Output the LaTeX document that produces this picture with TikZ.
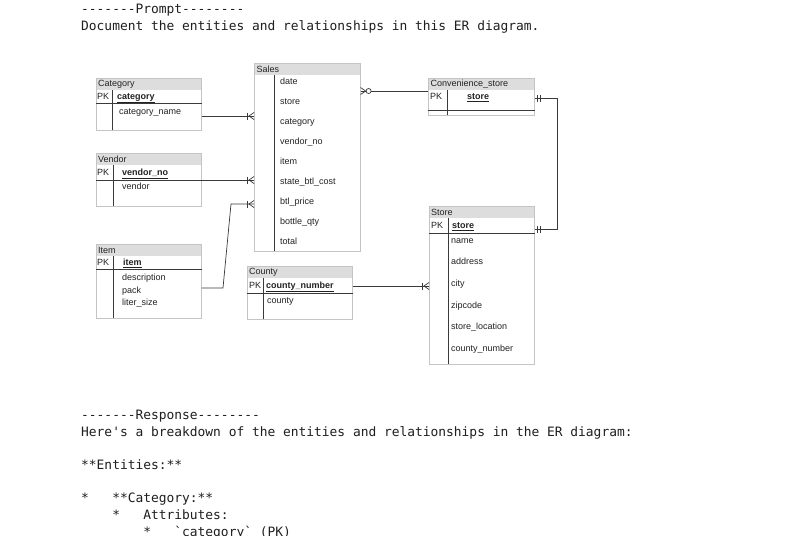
\documentclass[tikz,border=0pt]{standalone}
\usepackage{fontspec}
\setmonofont{DejaVu Sans Mono}
\newfontfamily\erfont{Liberation Sans}
\definecolor{hdrgray}{HTML}{DDDDDD}
\definecolor{boxgray}{HTML}{C4C4C4}
\definecolor{linegray}{HTML}{3A3A3A}
\definecolor{txtgray}{HTML}{222222}
\tikzset{
  tbl/.style={draw=boxgray,line width=0.6pt,anchor=north west,minimum width=105pt,inner sep=0pt},
  hdr/.style={fill=hdrgray,anchor=north west,minimum width=105pt,minimum height=12pt,inner sep=0pt,
    text width=101pt,align=left,font=\erfont\fontsize{9}{10}\selectfont,text=txtgray},
  fld/.style={anchor=west,inner sep=0pt,text height=6.5pt,text depth=2pt,
    font=\erfont\fontsize{9}{10}\selectfont,text=txtgray},
  pkey/.style={fld,font=\erfont\fontsize{9}{10}\selectfont\bfseries},
  keyline/.style={draw=linegray,line width=0.8pt},
  conn/.style={draw=linegray,line width=0.7pt},
  mono/.style={anchor=base west,inner sep=0pt,font=\ttfamily\fontsize{12.9}{15}\selectfont,text=black!88},
  pics/many/.style={code={
    \draw[conn] (-6.5,-3.5) -- (-6.5,3.5);
    \draw[conn] (0,-3.5) -- (-5,0) -- (0,3.5);
  }},
  pics/zmany/.style={code={
    \draw[conn] (0,-3.5) -- (-5,0) -- (0,3.5);
    \draw[conn,fill=white] (-8,0) circle (2.5pt);
  }},
  pics/one/.style={code={
    \draw[conn] (-2.5,-3.5) -- (-2.5,3.5) (-5.5,-3.5) -- (-5.5,3.5);
  }}
}
\begin{document}
\begin{tikzpicture}[x=1pt,y=-1pt]
\fill[white] (0,0) rectangle (804,536);
\useasboundingbox (0,0) rectangle (804,536);

% prompt
\node[mono] (prompt) at (81,13.5) {-------Prompt--------};
\node[mono] (ask) at (81,30.3) {Document the entities and relationships in this ER diagram.};

% Category
\node[hdr] (categoryh) at (96,78) {Category};
\node[tbl,minimum height=52pt] (category) at (96,78) {};
\node[fld] (categorypk) at (97,97) {PK};
\node[pkey] (categorykey) at (117,97) {\underline{category}};
\node[fld] (categoryname) at (119,112) {category\_name};
\draw[keyline] (category.west |- 0,103) -- (category.east |- 0,103);
\draw[keyline] (112,90) -- (112,130);

% Vendor
\node[hdr] (vendorh) at (96,153) {Vendor};
\node[tbl,minimum height=53pt] (vendor) at (96,153) {};
\node[fld] (vendorpk) at (97,173) {PK};
\node[pkey] (vendorkey) at (122,173) {\underline{vendor\_no}};
\node[fld] (vendorname) at (122,187) {vendor};
\draw[keyline] (vendor.west |- 0,180) -- (vendor.east |- 0,180);
\draw[keyline] (113,165) -- (113,206);

% Item
\node[hdr] (itemh) at (96,244) {Item};
\node[tbl,minimum height=74pt] (item) at (96,244) {};
\node[fld] (itempk) at (97,263) {PK};
\node[pkey] (itemkey) at (123,263) {\underline{item}};
\node[fld] (itemdesc) at (122,278) {description};
\node[fld] (itempack) at (122,291) {pack};
\node[fld] (itemsize) at (122,303) {liter\_size};
\draw[keyline] (item.west |- 0,269) -- (item.east |- 0,269);
\draw[keyline] (113,256) -- (113,318);

% Sales
\node[hdr,minimum width=106pt] (salesh) at (254,63) {Sales};
\node[tbl,minimum width=106pt,minimum height=188pt] (sales) at (254,63) {};
\draw[keyline] (274,75) -- (274,251);
\foreach \f [count=\i from 0] in {date,store,category,vendor\_no,item,state\_btl\_cost,btl\_price,bottle\_qty,total}
  \node[fld] (sales\i) at (280,82+20*\i) {\f};

% County
\node[hdr] (countyh) at (247,266) {County};
\node[tbl,minimum height=53pt] (county) at (247,266) {};
\node[fld] (countypk) at (249,286) {PK};
\node[pkey] (countykey) at (266,286) {\underline{county\_number}};
\node[fld] (countyname) at (267,301) {county};
\draw[keyline] (county.west |- 0,293) -- (county.east |- 0,293);
\draw[keyline] (263,278) -- (263,319);

% Convenience_store
\node[hdr,minimum width=106pt] (convh) at (428,78) {Convenience\_store};
\node[tbl,minimum width=106pt,minimum height=37pt] (conv) at (428,78) {};
\node[fld] (convpk) at (430,97) {PK};
\node[pkey] (convkey) at (467,97) {\underline{store}};
\draw[keyline] (conv.west |- 0,110) -- (conv.east |- 0,110);
\draw[keyline] (447,90) -- (447,115);

% Store
\node[hdr] (storeh) at (429,206) {Store};
\node[tbl,minimum height=158pt] (store) at (429,206) {};
\node[fld] (storepk) at (431,226) {PK};
\node[pkey] (storekey) at (452,226) {\underline{store}};
\draw[keyline] (store.west |- 0,233) -- (store.east |- 0,233);
\draw[keyline] (448,218) -- (448,364);
\foreach \f/\y [count=\i] in {name/241,address/262,city/284,zipcode/306,store\_location/327,county\_number/349}
  \node[fld] (store\i) at (451,\y) {\f};

% relationships
\draw[conn] (category.east |- 0,116) -- (sales.west |- 0,116) pic {many};
\draw[conn] (vendor.east |- 0,180) -- (sales.west |- 0,180) pic {many};
\draw[conn] (item.east |- 0,288) -- (223,288) -- (231,204) -- (sales.west |- 0,204) pic {many};
\draw[conn] (conv.west |- 0,91) -- (sales.east |- 0,91) pic[rotate=180] {zmany};
\draw[conn] (county.east |- 0,286) -- (store.west |- 0,286) pic {many};
\draw[conn] (conv.east |- 0,98) -- (557,98) -- (557,229) -- (store.east |- 0,229);
\pic[rotate=180] at (conv.east |- 0,98) {one};
\pic[rotate=180] at (store.east |- 0,229) {one};

% response
\node[mono] (resp) at (81,419.5) {-------Response--------};
\node[mono] (intro) at (81,436.2) {Here's a breakdown of the entities and relationships in the ER diagram:};
\node[mono] (ents) at (81,469.5) {**Entities:**};
\node[mono] (cathead) at (81,502.8) {*\ \ \ **Category:**};
\node[mono] (attrs) at (81,519.5) {\ \ \ \ *\ \ \ Attributes:};
\node[mono] (attr1) at (81,536.2) {\ \ \ \ \ \ \ \ *\ \ \ `category` (PK)};
\end{tikzpicture}
\end{document}
